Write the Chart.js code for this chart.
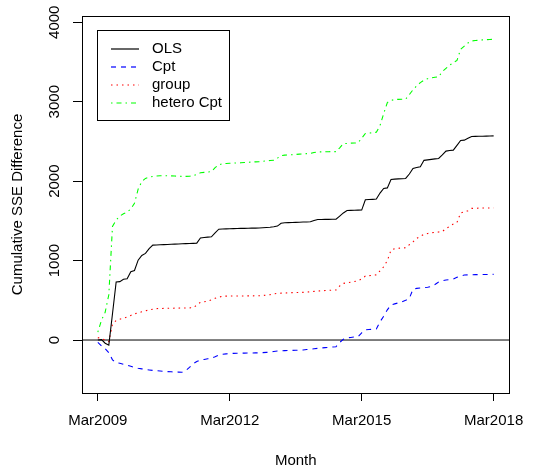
<!DOCTYPE html>
<html>
<head>
<meta charset="utf-8">
<script src="https://cdn.jsdelivr.net/npm/chart.js@4"></script>
<style>
  body { margin: 0; background: #fff; }
  #wrap { width: 535px; height: 470px; }
</style>
</head>
<body>
<div id="wrap"><canvas id="myChart" width="535" height="470"></canvas></div>
<script>
// monthly cumulative SSE differences, Mar2009 .. Mar2018 (109 months)
const olsValues = [
  0, 5, -40, -65, 330, 730, 735, 765, 770, 860, 875, 1005, 1065, 1090, 1150, 1195,
  1197, 1199, 1201, 1203, 1205, 1207, 1209, 1211, 1213, 1215, 1217, 1220, 1285, 1290,
  1295, 1300, 1350, 1395, 1397, 1399, 1400, 1402, 1403, 1405, 1406, 1407, 1408, 1409,
  1410, 1413, 1417, 1420, 1425, 1434, 1470, 1476, 1478, 1480, 1481, 1483, 1485, 1486,
  1488, 1505, 1518, 1518, 1519, 1519, 1520, 1520, 1560, 1600, 1630, 1632, 1633, 1635,
  1636, 1765, 1768, 1771, 1775, 1850, 1908, 1915, 2020, 2025, 2028, 2031, 2034, 2090,
  2160, 2172, 2182, 2262, 2268, 2274, 2280, 2286, 2330, 2378, 2385, 2390, 2450, 2512,
  2516, 2540, 2562, 2564, 2565, 2566, 2567, 2568, 2570
];
const cptValues = [
  -30, -75, -110, -160, -250, -283, -293, -305, -318, -330, -345, -356, -363, -370, -377, -383,
  -386, -390, -395, -398, -400, -402, -404, -405, -385, -345, -300, -270, -250, -245,
  -235, -228, -210, -190, -180, -175, -170, -168, -167, -166, -165, -164, -163, -162,
  -161, -159, -155, -150, -144, -138, -135, -133, -131, -130, -129, -127, -126, -120,
  -115, -110, -105, -100, -96, -92, -88, -84, -30, 10, 28, 32, 38, 42,
  90, 128, 132, 136, 140, 230, 300, 380, 440, 455, 468, 482, 500, 525,
  640, 650, 655, 660, 665, 672, 700, 730, 745, 755, 762, 767, 790, 805,
  818, 820, 822, 823, 824, 825, 825, 826, 826
];
const groupValues = [
  30, 15, 0, -20, 200, 245, 262, 275, 290, 310, 330, 342, 355, 368, 378, 388,
  395, 397, 398, 399, 400, 401, 402, 403, 404, 405, 406, 440, 475, 482,
  490, 505, 525, 540, 550, 553, 553, 554, 554, 555, 555, 556, 556, 557,
  557, 560, 565, 570, 580, 587, 590, 592, 594, 596, 597, 598, 600, 603,
  607, 612, 616, 620, 623, 626, 628, 630, 680, 713, 720, 728, 737, 746,
  770, 805, 810, 815, 820, 870, 922, 1000, 1130, 1150, 1155, 1158, 1161, 1200,
  1235, 1280, 1305, 1330, 1342, 1350, 1355, 1360, 1365, 1405, 1430, 1460, 1480, 1600,
  1615, 1627, 1657, 1659, 1660, 1661, 1662, 1663, 1664
];
const heteroValues = [
  100, 250, 350, 570, 1430, 1510, 1560, 1590, 1610, 1650, 1720, 1900, 1995, 2035, 2050, 2060,
  2065, 2067, 2068, 2068, 2066, 2064, 2062, 2060, 2060, 2062, 2066, 2085, 2105, 2110,
  2115, 2120, 2170, 2205, 2220, 2223, 2225, 2227, 2229, 2231, 2234, 2237, 2240, 2243,
  2245, 2250, 2255, 2260, 2264, 2290, 2320, 2327, 2330, 2333, 2336, 2340, 2343, 2346,
  2349, 2360, 2369, 2369, 2370, 2371, 2372, 2372, 2420, 2472, 2475, 2478, 2480, 2482,
  2540, 2600, 2605, 2610, 2615, 2700, 2850, 2990, 3015, 3028, 3030, 3031, 3032, 3090,
  3150, 3200, 3240, 3270, 3290, 3300, 3307, 3313, 3380, 3420, 3460, 3490, 3520, 3660,
  3700, 3740, 3765, 3770, 3774, 3778, 3781, 3784, 3786
];

const seriesNames = ['OLS', 'Cpt', 'group', 'hetero Cpt'];
const tickMonths = [0, 36, 72, 108];
const tickLabels = ['Mar2009', 'Mar2012', 'Mar2015', 'Mar2018'];
const yTicks = [0, 1000, 2000, 3000, 4000];

const FONT = '"Liberation Sans", Arial, Helvetica, sans-serif';
const colors = ['#000000', '#0000ff', '#ff0000', '#00ff00'];
const dashes = [[], [5, 5], [1.5, 4], [1.5, 4, 5, 4]];

function toPoints(arr) {
  return arr.map((v, i) => ({ x: i, y: v }));
}

// R-like extras: box, zero line, rotated y labels, legend
const rStyle = {
  id: 'rStyle',
  beforeDatasetsDraw(chart) {
    const c = chart.ctx;
    const area = chart.chartArea;
    const y0 = chart.scales.y.getPixelForValue(0);
    c.save();
    c.strokeStyle = '#000';
    c.lineWidth = 1;
    c.beginPath();
    c.moveTo(area.left, y0);
    c.lineTo(area.right, y0);
    c.stroke();
    c.restore();
  },
  afterDraw(chart) {
    const c = chart.ctx;
    const area = chart.chartArea;
    const yScale = chart.scales.y;
    c.save();
    c.strokeStyle = '#000';
    c.lineWidth = 1;
    c.strokeRect(Math.round(area.left) + 0.5, Math.round(area.top) + 0.5,
      Math.round(area.right - area.left), Math.round(area.bottom - area.top));

    // y tick labels, parallel to the axis
    c.fillStyle = '#000';
    c.font = '15px ' + FONT;
    c.textAlign = 'center';
    c.textBaseline = 'alphabetic';
    yTicks.forEach(v => {
      const py = yScale.getPixelForValue(v);
      c.save();
      c.translate(59, py);
      c.rotate(-Math.PI / 2);
      c.fillText(String(v), 0, 0);
      c.restore();
    });

    // legend
    const lx = 97.5, ly = 30.5, lw = 132, lh = 90;
    c.fillStyle = '#fff';
    c.fillRect(lx, ly, lw, lh);
    c.strokeStyle = '#000';
    c.strokeRect(lx, ly, lw, lh);
    c.textAlign = 'left';
    c.textBaseline = 'middle';
    for (let i = 0; i < seriesNames.length; i++) {
      const ry = 49 + i * 18;
      c.beginPath();
      c.setLineDash(dashes[i]);
      c.lineWidth = 1.2;
      c.strokeStyle = colors[i];
      c.moveTo(111, ry);
      c.lineTo(139, ry);
      c.stroke();
      c.setLineDash([]);
      c.fillStyle = '#000';
      c.fillText(seriesNames[i], 152, ry);
    }
    c.restore();
  }
};

const ctx = document.getElementById('myChart');

new Chart(ctx, {
  type: 'line',
  data: {
    datasets: [olsValues, cptValues, groupValues, heteroValues].map((vals, i) => ({
      label: seriesNames[i],
      data: toPoints(vals),
      borderColor: colors[i],
      borderWidth: 1.1,
      borderDash: dashes[i]
    }))
  },
  options: {
    responsive: false,
    animation: false,
    events: [],
    elements: { point: { radius: 0 }, line: { tension: 0, fill: false } },
    layout: { padding: { left: 0, right: 21, top: 16, bottom: 0 } },
    plugins: { legend: { display: false }, tooltip: { enabled: false } },
    scales: {
      x: {
        type: 'linear',
        min: -4.32,
        max: 112.32,
        afterBuildTicks: scale => { scale.ticks = tickMonths.map(v => ({ value: v })); },
        afterFit: scale => { scale.height = 77; },
        border: { display: false },
        grid: { drawOnChartArea: false, drawTicks: true, tickLength: 8, color: '#000' },
        ticks: {
          autoSkip: false,
          maxRotation: 0,
          padding: 11,
          color: '#000',
          font: { family: FONT, size: 15 },
          callback: v => tickLabels[tickMonths.indexOf(v)]
        },
        title: {
          display: true,
          text: 'Month',
          color: '#000',
          font: { family: FONT, size: 15 },
          padding: { top: 1.5, bottom: 0 }
        }
      },
      y: {
        min: -667,
        max: 4079,
        afterBuildTicks: scale => { scale.ticks = yTicks.map(v => ({ value: v })); },
        afterFit: scale => { scale.width = 82; },
        border: { display: false },
        grid: { drawOnChartArea: false, drawTicks: true, tickLength: 9, color: '#000' },
        ticks: { display: false },
        title: {
          display: true,
          text: 'Cumulative SSE Difference',
          color: '#000',
          font: { family: FONT, size: 15 },
          padding: { top: 9, bottom: 0 }
        }
      }
    }
  },
  plugins: [rStyle]
});
</script>
</body>
</html>
